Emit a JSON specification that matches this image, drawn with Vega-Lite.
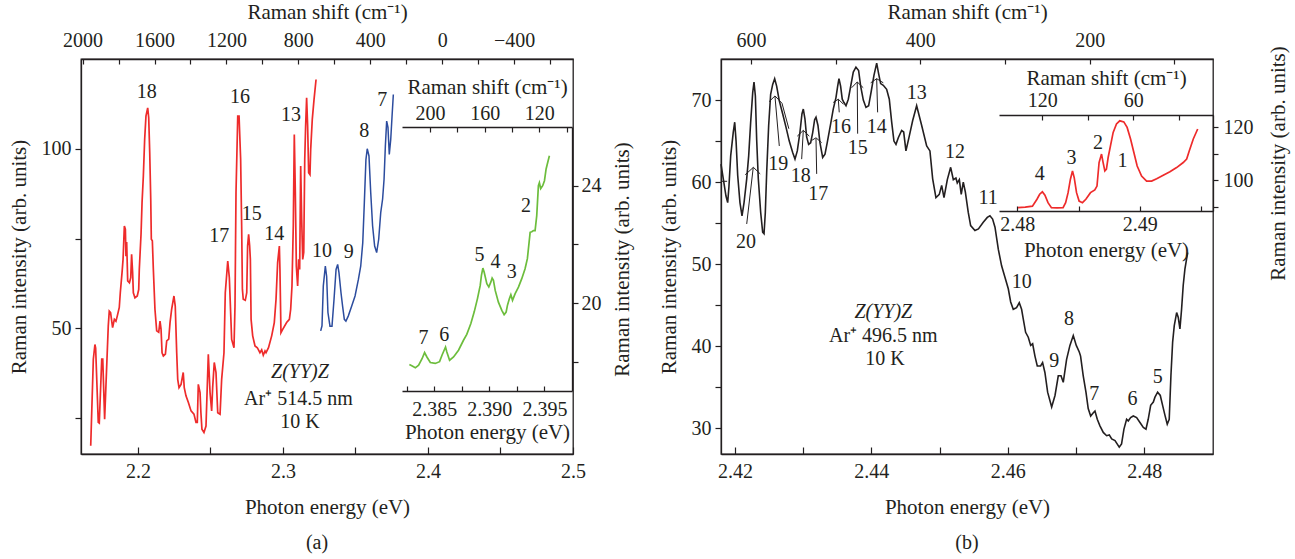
{
"$schema":"https://vega.github.io/schema/vega-lite/v6.json",
"background":"white",
"padding":{"left":7,"top":0,"right":5,"bottom":5},
"config":{
 "font":"Liberation Serif",
 "view":{"stroke":"#231f20","strokeWidth":1.3},
 "axis":{"grid":false,"domainColor":"#231f20","domainWidth":1.3,"tickColor":"#231f20","tickWidth":1.2,"labelColor":"#231f20","titleColor":"#231f20","labelFont":"Liberation Serif","titleFont":"Liberation Serif","labelFontSize":20,"titleFontSize":21,"titleFontWeight":"normal","labelOverlap":false,"labelFlush":false,"labelBound":false},
 "text":{"font":"Liberation Serif","fontSize":20,"color":"#231f20"},
 "title":{"font":"Liberation Serif","fontSize":20,"fontWeight":"normal","color":"#231f20"}
},
"datasets":{
 "aRed":[{"e":2.1674,"i":17.3},{"e":2.1692,"i":41.4},{"e":2.1703,"i":45.5},{"e":2.1708,"i":44.5},{"e":2.1726,"i":23.8},{"e":2.1733,"i":23.6},{"e":2.175,"i":41.4},{"e":2.1757,"i":41.4},{"e":2.177,"i":24.7},{"e":2.1779,"i":34},{"e":2.1795,"i":50.6},{"e":2.1802,"i":54.8},{"e":2.1811,"i":54.4},{"e":2.1825,"i":50.2},{"e":2.1837,"i":52.5},{"e":2.1848,"i":52},{"e":2.1857,"i":53.4},{"e":2.1871,"i":55.8},{"e":2.1878,"i":59.9},{"e":2.189,"i":65.5},{"e":2.1897,"i":69.2},{"e":2.1906,"i":78.5},{"e":2.1913,"i":77.6},{"e":2.1917,"i":70.1},{"e":2.1922,"i":74},{"e":2.1929,"i":63.2},{"e":2.1941,"i":62.7},{"e":2.195,"i":64.1},{"e":2.1956,"i":70.6},{"e":2.1963,"i":65.5},{"e":2.1968,"i":59.9},{"e":2.1979,"i":58.5},{"e":2.1995,"i":59},{"e":2.2005,"i":60.8},{"e":2.2009,"i":66.4},{"e":2.2021,"i":76.2},{"e":2.2028,"i":85},{"e":2.2037,"i":92.4},{"e":2.2046,"i":102.6},{"e":2.2055,"i":109.1},{"e":2.2067,"i":111.4},{"e":2.2074,"i":108.6},{"e":2.2081,"i":98.9},{"e":2.2088,"i":85.9},{"e":2.2092,"i":74.8},{"e":2.2099,"i":74.4},{"e":2.2106,"i":66.4},{"e":2.2117,"i":55.3},{"e":2.2129,"i":49.3},{"e":2.2143,"i":48.9},{"e":2.2152,"i":52},{"e":2.2159,"i":49.8},{"e":2.2166,"i":43.2},{"e":2.2175,"i":42.3},{"e":2.2189,"i":42.8},{"e":2.2198,"i":46.5},{"e":2.2212,"i":47},{"e":2.2221,"i":51.6},{"e":2.2232,"i":55.3},{"e":2.2248,"i":59},{"e":2.2257,"i":56.2},{"e":2.2267,"i":43.2},{"e":2.2274,"i":35.8},{"e":2.2283,"i":33.5},{"e":2.2297,"i":34.4},{"e":2.2312,"i":37.7},{"e":2.2319,"i":33.5},{"e":2.2331,"i":31.2},{"e":2.2347,"i":29.4},{"e":2.2366,"i":27},{"e":2.2386,"i":26.1},{"e":2.24,"i":23.8},{"e":2.2409,"i":23.8},{"e":2.2416,"i":34.4},{"e":2.2428,"i":32.1},{"e":2.2434,"i":26.5},{"e":2.2441,"i":21.9},{"e":2.2455,"i":21},{"e":2.2469,"i":22.8},{"e":2.2485,"i":42.8},{"e":2.2497,"i":32.1},{"e":2.2508,"i":27},{"e":2.2515,"i":33.5},{"e":2.2526,"i":40.5},{"e":2.2538,"i":37.7},{"e":2.255,"i":26.5},{"e":2.2566,"i":26.1},{"e":2.2577,"i":35.8},{"e":2.2593,"i":43.2},{"e":2.2602,"i":59.9},{"e":2.2619,"i":68.7},{"e":2.263,"i":64.1},{"e":2.2646,"i":46.9},{"e":2.2662,"i":44.6},{"e":2.2669,"i":56.2},{"e":2.2676,"i":87.8},{"e":2.2688,"i":109.1},{"e":2.2697,"i":109.1},{"e":2.2708,"i":97},{"e":2.2715,"i":78.5},{"e":2.272,"i":60.9},{"e":2.2726,"i":58.1},{"e":2.274,"i":57.8},{"e":2.275,"i":59.9},{"e":2.2756,"i":72.9},{"e":2.2763,"i":76.2},{"e":2.277,"i":73},{"e":2.2775,"i":69.2},{"e":2.278,"i":52.5},{"e":2.2791,"i":47.9},{"e":2.2807,"i":45.1},{"e":2.2823,"i":44.6},{"e":2.2841,"i":43.2},{"e":2.2853,"i":44},{"e":2.2864,"i":42.5},{"e":2.2876,"i":43.7},{"e":2.2883,"i":43.2},{"e":2.29,"i":44.6},{"e":2.2922,"i":47.9},{"e":2.294,"i":51.6},{"e":2.2952,"i":58.1},{"e":2.2963,"i":68.3},{"e":2.2975,"i":72.9},{"e":2.2979,"i":66.4},{"e":2.2986,"i":48.8},{"e":2.2998,"i":49.7},{"e":2.3025,"i":51.6},{"e":2.3044,"i":52.5},{"e":2.3053,"i":55.3},{"e":2.3062,"i":61.8},{"e":2.3071,"i":78.5},{"e":2.3078,"i":104},{"e":2.3085,"i":88},{"e":2.3092,"i":67.3},{"e":2.3101,"i":61.8},{"e":2.3108,"i":69.2},{"e":2.3115,"i":66.4},{"e":2.3122,"i":95.2},{"e":2.3129,"i":80.4},{"e":2.3136,"i":69.2},{"e":2.3143,"i":71.1},{"e":2.315,"i":97},{"e":2.3156,"i":106.3},{"e":2.3163,"i":114.2},{"e":2.317,"i":106.3},{"e":2.3177,"i":93.3},{"e":2.3186,"i":92.8},{"e":2.3191,"i":99.8},{"e":2.3202,"i":108.2},{"e":2.3214,"i":113.7},{"e":2.3228,"i":119.3}],
 "aBlue":[{"e":2.326,"i":49.3},{"e":2.3269,"i":50.7},{"e":2.3278,"i":61.8},{"e":2.3292,"i":67.3},{"e":2.3301,"i":64.5},{"e":2.331,"i":54.4},{"e":2.3324,"i":50.6},{"e":2.3338,"i":50.6},{"e":2.3352,"i":58.1},{"e":2.3366,"i":66.4},{"e":2.3377,"i":67.8},{"e":2.3386,"i":65.5},{"e":2.34,"i":59.9},{"e":2.3411,"i":56.2},{"e":2.3423,"i":52.5},{"e":2.3434,"i":52},{"e":2.345,"i":53.4},{"e":2.3474,"i":56.2},{"e":2.3497,"i":59},{"e":2.352,"i":63.6},{"e":2.3536,"i":67.3},{"e":2.355,"i":73.8},{"e":2.3561,"i":85},{"e":2.3572,"i":97},{"e":2.3581,"i":100},{"e":2.3593,"i":98},{"e":2.3605,"i":87.8},{"e":2.3618,"i":78.5},{"e":2.3632,"i":72.9},{"e":2.3646,"i":71.1},{"e":2.366,"i":74.8},{"e":2.3674,"i":82.2},{"e":2.3687,"i":86},{"e":2.3697,"i":91.5},{"e":2.3706,"i":100.8},{"e":2.3715,"i":107.7},{"e":2.3724,"i":106},{"e":2.3733,"i":98.4},{"e":2.3743,"i":102.6},{"e":2.3752,"i":109},{"e":2.3761,"i":115.1}],
 "aGreen":[{"e":2.38274,"i":17.9},{"e":2.383,"i":17.85},{"e":2.38328,"i":17.79},{"e":2.38358,"i":17.88},{"e":2.38389,"i":18.1},{"e":2.38412,"i":18.31},{"e":2.38433,"i":18.16},{"e":2.38464,"i":17.97},{"e":2.38509,"i":17.94},{"e":2.38548,"i":18.0},{"e":2.3857,"i":18.22},{"e":2.38602,"i":18.5},{"e":2.38614,"i":18.33},{"e":2.38639,"i":18.05},{"e":2.38675,"i":18.16},{"e":2.3872,"i":18.39},{"e":2.38765,"i":18.73},{"e":2.38795,"i":18.93},{"e":2.38832,"i":19.3},{"e":2.38862,"i":19.69},{"e":2.38892,"i":20.15},{"e":2.38917,"i":20.6},{"e":2.38928,"i":20.94},{"e":2.38941,"i":21.19},{"e":2.38953,"i":21.05},{"e":2.38977,"i":20.66},{"e":2.38995,"i":20.55},{"e":2.39013,"i":20.71},{"e":2.39025,"i":20.85},{"e":2.39037,"i":20.77},{"e":2.39053,"i":20.43},{"e":2.39082,"i":20.03},{"e":2.39113,"i":19.75},{"e":2.39134,"i":19.6},{"e":2.39152,"i":19.69},{"e":2.39164,"i":19.92},{"e":2.39182,"i":20.15},{"e":2.39195,"i":20.28},{"e":2.3921,"i":20.09},{"e":2.39234,"i":20.32},{"e":2.39264,"i":20.54},{"e":2.39294,"i":20.83},{"e":2.39324,"i":21.17},{"e":2.39345,"i":21.51},{"e":2.3937,"i":22.41},{"e":2.39385,"i":22.43},{"e":2.394,"i":22.47},{"e":2.39415,"i":22.47},{"e":2.3943,"i":22.98},{"e":2.39445,"i":24.0},{"e":2.39454,"i":24.1},{"e":2.39466,"i":23.9},{"e":2.39484,"i":24.0},{"e":2.395,"i":24.17},{"e":2.39515,"i":24.57},{"e":2.3953,"i":24.8},{"e":2.39545,"i":25.02}],
 "aLab":[{"e":2.206,"i":115.9,"t":"18"},{"e":2.2561,"i":75.7,"t":"17"},{"e":2.2703,"i":114.4,"t":"16"},{"e":2.2784,"i":81.7,"t":"15"},{"e":2.294,"i":76.2,"t":"14"},{"e":2.3055,"i":109.3,"t":"13"},{"e":2.3269,"i":71.5,"t":"10"},{"e":2.3453,"i":71.2,"t":"9"},{"e":2.3561,"i":104.9,"t":"8"},{"e":2.3685,"i":113.5,"t":"7"}],
 "aNote":[{"e":2.3106,"i":30.2,"t":"Ar⁺ 514.5 nm"},{"e":2.3117,"i":23.9,"t":"10 K"}],
 "aNoteIt":[{"e":2.3117,"i":37.7,"t":"Z(YY)Z"}],
 "aInLab":[{"e":2.39333,"i":23.3,"t":"2"},{"e":2.3891,"i":21.64,"t":"5"},{"e":2.39055,"i":21.39,"t":"4"},{"e":2.39204,"i":21.05,"t":"3"},{"e":2.38403,"i":18.79,"t":"7"},{"e":2.38591,"i":18.9,"t":"6"}],
 "aTop":[{"r":0}],
 "aInTop":[{"r":160}],
 "bMain":[{"e":2.41795,"i":62.2},{"e":2.41868,"i":58.3},{"e":2.41893,"i":57.5},{"e":2.41912,"i":59.5},{"e":2.41937,"i":63.2},{"e":2.41975,"i":66.1},{"e":2.41996,"i":67.3},{"e":2.42016,"i":65},{"e":2.4204,"i":60.8},{"e":2.42073,"i":57.5},{"e":2.42103,"i":55.9},{"e":2.42133,"i":57.5},{"e":2.42172,"i":60.4},{"e":2.42201,"i":63.2},{"e":2.4223,"i":67.3},{"e":2.4226,"i":70.9},{"e":2.42279,"i":72.2},{"e":2.42299,"i":70.5},{"e":2.42318,"i":65.2},{"e":2.42342,"i":60.4},{"e":2.42377,"i":56.3},{"e":2.42406,"i":53.9},{"e":2.42426,"i":53.7},{"e":2.42445,"i":56.3},{"e":2.42465,"i":61.2},{"e":2.42494,"i":66.9},{"e":2.42523,"i":70.7},{"e":2.42553,"i":71.9},{"e":2.42582,"i":72.6},{"e":2.42611,"i":71.7},{"e":2.4265,"i":69.9},{"e":2.427,"i":68.3},{"e":2.42748,"i":66.7},{"e":2.42796,"i":65},{"e":2.42846,"i":63.6},{"e":2.4288,"i":62.8},{"e":2.42914,"i":63.8},{"e":2.42953,"i":66.1},{"e":2.42982,"i":68.3},{"e":2.43002,"i":68.9},{"e":2.43026,"i":67.7},{"e":2.43051,"i":65.5},{"e":2.4308,"i":64.6},{"e":2.4311,"i":64.8},{"e":2.43139,"i":66},{"e":2.43168,"i":67.6},{"e":2.43188,"i":67.9},{"e":2.43217,"i":66.9},{"e":2.43246,"i":64.8},{"e":2.43286,"i":63},{"e":2.4332,"i":63.4},{"e":2.43353,"i":64.8},{"e":2.43403,"i":67.1},{"e":2.43441,"i":68.9},{"e":2.43481,"i":70.3},{"e":2.43506,"i":71.7},{"e":2.43525,"i":72.6},{"e":2.43549,"i":71.7},{"e":2.43573,"i":70.1},{"e":2.43598,"i":69.7},{"e":2.43628,"i":69.3},{"e":2.43662,"i":70.1},{"e":2.43697,"i":71.7},{"e":2.43735,"i":73.4},{"e":2.43774,"i":74},{"e":2.43813,"i":73.6},{"e":2.43843,"i":71.7},{"e":2.43882,"i":70},{"e":2.43921,"i":69.1},{"e":2.4396,"i":69.3},{"e":2.43999,"i":71.1},{"e":2.44038,"i":73},{"e":2.44078,"i":74.5},{"e":2.44107,"i":73.2},{"e":2.44136,"i":72},{"e":2.44175,"i":71.8},{"e":2.44224,"i":71.3},{"e":2.44263,"i":70.1},{"e":2.44298,"i":67.3},{"e":2.44331,"i":65},{"e":2.44361,"i":64.6},{"e":2.44395,"i":65.4},{"e":2.44444,"i":66.3},{"e":2.44474,"i":66.1},{"e":2.44507,"i":63.8},{"e":2.44556,"i":65.6},{"e":2.44606,"i":67.5},{"e":2.44664,"i":69.3},{"e":2.44738,"i":66.9},{"e":2.44811,"i":64.4},{"e":2.44859,"i":63.8},{"e":2.44899,"i":60.4},{"e":2.44947,"i":58.1},{"e":2.44996,"i":58.5},{"e":2.45031,"i":59.6},{"e":2.45065,"i":58.1},{"e":2.45114,"i":60.3},{"e":2.45163,"i":61.8},{"e":2.45202,"i":60.3},{"e":2.4524,"i":60.5},{"e":2.4526,"i":59.9},{"e":2.4529,"i":60.3},{"e":2.45318,"i":58.5},{"e":2.45348,"i":60},{"e":2.45378,"i":58.8},{"e":2.45421,"i":56.3},{"e":2.45456,"i":54.7},{"e":2.45519,"i":54.1},{"e":2.4557,"i":54.3},{"e":2.45641,"i":55.1},{"e":2.457,"i":55.7},{"e":2.45739,"i":55.9},{"e":2.45778,"i":55.5},{"e":2.45813,"i":54.5},{"e":2.45862,"i":51.8},{"e":2.4591,"i":49.8},{"e":2.45959,"i":48.4},{"e":2.46008,"i":47},{"e":2.46043,"i":45.4},{"e":2.46081,"i":44.5},{"e":2.46129,"i":44.7},{"e":2.46169,"i":45.3},{"e":2.46203,"i":44.5},{"e":2.46228,"i":43.3},{"e":2.46262,"i":41.7},{"e":2.46301,"i":41.1},{"e":2.46336,"i":40.1},{"e":2.46365,"i":40.3},{"e":2.46399,"i":38.8},{"e":2.46433,"i":37.6},{"e":2.46482,"i":37.6},{"e":2.46511,"i":38},{"e":2.46545,"i":36.8},{"e":2.46585,"i":34.4},{"e":2.46644,"i":32.6},{"e":2.46693,"i":34},{"e":2.46741,"i":36.4},{"e":2.46781,"i":36.4},{"e":2.46814,"i":35.6},{"e":2.46863,"i":38.4},{"e":2.46912,"i":40.1},{"e":2.46961,"i":41.3},{"e":2.47005,"i":40.1},{"e":2.47049,"i":39.3},{"e":2.47068,"i":38.8},{"e":2.47107,"i":36.4},{"e":2.47147,"i":34.4},{"e":2.4718,"i":32.4},{"e":2.47216,"i":31.5},{"e":2.47255,"i":31.9},{"e":2.47279,"i":32.1},{"e":2.47313,"i":31.1},{"e":2.47352,"i":30.3},{"e":2.47401,"i":29.5},{"e":2.4745,"i":29.1},{"e":2.47489,"i":29.2},{"e":2.47524,"i":28.7},{"e":2.47573,"i":28.5},{"e":2.47635,"i":27.7},{"e":2.47669,"i":28.1},{"e":2.47704,"i":29.9},{"e":2.47743,"i":31.1},{"e":2.47767,"i":30.9},{"e":2.47802,"i":31.3},{"e":2.47841,"i":31.5},{"e":2.4789,"i":31.3},{"e":2.47939,"i":30.7},{"e":2.47988,"i":30.1},{"e":2.48027,"i":29.9},{"e":2.4806,"i":31.1},{"e":2.48096,"i":32.8},{"e":2.48135,"i":33.2},{"e":2.48159,"i":33.8},{"e":2.48198,"i":34.4},{"e":2.48237,"i":34},{"e":2.48271,"i":32.8},{"e":2.48305,"i":31.6},{"e":2.48339,"i":30.5},{"e":2.48368,"i":31.1},{"e":2.48393,"i":36.4},{"e":2.48418,"i":40.5},{"e":2.48442,"i":42.5},{"e":2.48477,"i":44.1},{"e":2.48501,"i":43.5},{"e":2.48525,"i":42.1},{"e":2.48549,"i":44.5},{"e":2.48573,"i":47.4},{"e":2.48598,"i":49.4},{"e":2.48638,"i":51.4}],
 "bFit":[{"g":"a","e":2.41805,"i":60.1},{"g":"a","e":2.41885,"i":60.1},{"g":"b","e":2.4215,"i":60.9},{"g":"b","e":2.4227,"i":61.8},{"g":"b","e":2.4237,"i":61.0},{"g":"c","e":2.425,"i":69.8},{"g":"c","e":2.42587,"i":70.5},{"g":"c","e":2.4269,"i":69.6},{"g":"c","e":2.4279,"i":66.5},{"g":"d","e":2.42914,"i":65.6},{"g":"d","e":2.43002,"i":66.3},{"g":"d","e":2.4309,"i":65.6},{"g":"e","e":2.4313,"i":65.1},{"g":"e","e":2.43188,"i":65.4},{"g":"e","e":2.43271,"i":64.8},{"g":"f","e":2.4344,"i":69.7},{"g":"f","e":2.43515,"i":70.1},{"g":"f","e":2.4359,"i":69.5},{"g":"h","e":2.43711,"i":71.5},{"g":"h","e":2.43793,"i":72.2},{"g":"h","e":2.43881,"i":71.5},{"g":"k","e":2.4399,"i":72.1},{"g":"k","e":2.44078,"i":72.6},{"g":"k","e":2.44175,"i":72.1}],
 "bLead":[{"g":"20","e":2.42172,"i":54.9},{"g":"20","e":2.42268,"i":61.8},{"g":"19","e":2.4265,"i":64.4},{"g":"19","e":2.42587,"i":70.4},{"g":"18","e":2.42978,"i":62.8},{"g":"18","e":2.43002,"i":66.3},{"g":"17","e":2.43198,"i":61},{"g":"17","e":2.43188,"i":65.3},{"g":"16","e":2.43529,"i":68.5},{"g":"16","e":2.43515,"i":70.1},{"g":"15","e":2.43799,"i":65.9},{"g":"15","e":2.43793,"i":72.2},{"g":"14","e":2.44092,"i":68.5},{"g":"14","e":2.44078,"i":72.6}],
 "bLab":[{"e":2.42161,"i":52.7,"t":"20"},{"e":2.42635,"i":62.2,"t":"19"},{"e":2.42963,"i":60.8,"t":"18"},{"e":2.43222,"i":58.5,"t":"17"},{"e":2.43554,"i":66.7,"t":"16"},{"e":2.43799,"i":64.1,"t":"15"},{"e":2.44078,"i":66.7,"t":"14"},{"e":2.44664,"i":70.9,"t":"13"},{"e":2.45226,"i":63.7,"t":"12"},{"e":2.45714,"i":58.1,"t":"11"},{"e":2.46204,"i":47.8,"t":"10"},{"e":2.46682,"i":38.2,"t":"9"},{"e":2.46897,"i":43.3,"t":"8"},{"e":2.47268,"i":34.2,"t":"7"},{"e":2.47831,"i":33.6,"t":"6"},{"e":2.48198,"i":36.3,"t":"5"}],
 "bNote":[{"e":2.44175,"i":41.21,"t":"Ar⁺ 496.5 nm"},{"e":2.442,"i":38.44,"t":"10 K"}],
 "bNoteIt":[{"e":2.44175,"i":44.13,"t":"Z(YY)Z"}],
 "bRed":[{"e":2.48005,"i":89.6},{"e":2.48064,"i":89.8},{"e":2.48123,"i":90.2},{"e":2.4816,"i":92.8},{"e":2.48182,"i":94.7},{"e":2.48204,"i":95.6},{"e":2.48225,"i":94.3},{"e":2.4825,"i":91.5},{"e":2.48278,"i":89.6},{"e":2.48325,"i":89.5},{"e":2.48373,"i":89.6},{"e":2.48394,"i":91.5},{"e":2.48414,"i":95.3},{"e":2.48433,"i":100.4},{"e":2.4845,"i":103.5},{"e":2.48464,"i":101},{"e":2.48483,"i":95.3},{"e":2.48504,"i":92.1},{"e":2.48531,"i":91.5},{"e":2.48559,"i":92.8},{"e":2.48597,"i":95.3},{"e":2.48632,"i":96.3},{"e":2.4865,"i":97.8},{"e":2.48667,"i":106.7},{"e":2.48687,"i":109.9},{"e":2.487,"i":106.7},{"e":2.48714,"i":103.5},{"e":2.48727,"i":104.2},{"e":2.48741,"i":108.6},{"e":2.4876,"i":113},{"e":2.48782,"i":118.1},{"e":2.48809,"i":121.3},{"e":2.48836,"i":122.5},{"e":2.48869,"i":122.1},{"e":2.48896,"i":120},{"e":2.48924,"i":115.6},{"e":2.48951,"i":110.5},{"e":2.48978,"i":105.4},{"e":2.49014,"i":101.6},{"e":2.49055,"i":99.7},{"e":2.49096,"i":99.7},{"e":2.49137,"i":100.6},{"e":2.49191,"i":101.9},{"e":2.49245,"i":103.2},{"e":2.493,"i":104.8},{"e":2.49354,"i":106.7},{"e":2.49382,"i":108},{"e":2.49403,"i":111.1},{"e":2.49436,"i":115.6},{"e":2.49472,"i":119.4}],
 "bInLab":[{"e":2.48182,"i":102.3,"t":"4"},{"e":2.48442,"i":108.6,"t":"3"},{"e":2.48659,"i":114,"t":"2"},{"e":2.48859,"i":107.3,"t":"1"}],
 "bTop":[{"r":400}],
 "bInTop":[{"r":60}]
},
"bounds":"flush",
"spacing":148,
"hconcat":[
 {
  "width":492,"height":395,
  "title":{"text":"(a)","orient":"bottom","offset":16,"dx":-10},
  "layer":[
   {"layer":[
     {"data":{"name":"aRed"},"mark":{"type":"line","color":"#ee2b2b","strokeWidth":1.7},
      "encoding":{
       "x":{"field":"e","type":"quantitative","scale":{"domain":[2.1607,2.5],"nice":false,"zero":false},
            "axis":{"orient":"bottom","title":"Photon energy (eV)","values":[2.2,2.25,2.3,2.35,2.4,2.45,2.5],"labelExpr":"indexof([2.2,2.3,2.4,2.5], datum.value) >= 0 ? format(datum.value, '.1f') : ''","tickSize":-7,"labelPadding":14,"titlePadding":15}},
       "y":{"field":"i","type":"quantitative","scale":{"domain":[15,125],"nice":false,"zero":false},
            "axis":{"orient":"left","title":"Raman intensity (arb. units)","values":[25,50,75,100],"labelExpr":"datum.value % 50 == 0 ? datum.label : ''","tickSize":6,"labelPadding":4,"titlePadding":12}}}},
     {"data":{"name":"aBlue"},"mark":{"type":"line","color":"#2c4c9e","strokeWidth":1.5},
      "encoding":{"x":{"field":"e","type":"quantitative"},"y":{"field":"i","type":"quantitative"}}},
     {"data":{"name":"aLab"},"mark":{"type":"text","align":"center","baseline":"middle"},
      "encoding":{"x":{"field":"e","type":"quantitative"},"y":{"field":"i","type":"quantitative"},"text":{"field":"t"}}},
     {"data":{"name":"aNote"},"mark":{"type":"text","align":"center","baseline":"middle"},
      "encoding":{"x":{"field":"e","type":"quantitative"},"y":{"field":"i","type":"quantitative"},"text":{"field":"t"}}},
     {"data":{"name":"aNoteIt"},"mark":{"type":"text","align":"center","baseline":"middle","fontStyle":"italic"},
      "encoding":{"x":{"field":"e","type":"quantitative"},"y":{"field":"i","type":"quantitative"},"text":{"field":"t"}}}
   ]},
   {"data":{"name":"aTop"},"mark":{"type":"point","opacity":0},
    "encoding":{"x":{"field":"r","type":"quantitative","scale":{"domain":[2009,-728],"nice":false,"zero":false},
      "axis":{"orient":"top","title":"Raman shift (cm⁻¹)","values":[2000,1800,1600,1400,1200,1000,800,600,400,200,0,-200,-400,-600],"labelExpr":"datum.value % 400 == 0 ? format(datum.value, 'd') : ''","tickSize":-5,"labelPadding":14,"titlePadding":8}}}},
   {"layer":[
     {"data":{"name":"aGreen"},"mark":{"type":"line","color":"#6cbd3c","strokeWidth":1.7},
      "encoding":{
       "x":{"field":"e","type":"quantitative","scale":{"domain":[2.38207,2.3975],"range":[321,491],"nice":false,"zero":false},
            "axis":{"orient":"bottom","offset":-63,"title":"Photon energy (eV)","values":[2.3825,2.385,2.3875,2.39,2.3925,2.395],"labelExpr":"indexof([2.385,2.39,2.395], datum.value) >= 0 ? format(datum.value, '.3f') : ''","tickSize":-5,"labelPadding":13,"titlePadding":2}},
       "y":{"field":"i","type":"quantitative","scale":{"domain":[17,26],"range":[332,68],"nice":false,"zero":false},
            "axis":{"orient":"right","offset":-1,"title":"Raman intensity (arb. units)","titleAngle":270,"titleBaseline":"top","values":[18,20,22,24],"labelExpr":"datum.value % 4 == 0 ? datum.label : ''","tickSize":6,"labelPadding":3,"titlePadding":10}}}},
     {"data":{"name":"aInLab"},"mark":{"type":"text","align":"center","baseline":"middle"},
      "encoding":{"x":{"field":"e","type":"quantitative"},"y":{"field":"i","type":"quantitative"},"text":{"field":"t"}}}
   ]},
   {"data":{"name":"aInTop"},"mark":{"type":"point","opacity":0},
    "encoding":{"x":{"field":"r","type":"quantitative","scale":{"domain":[220.5,96.1],"range":[321,491],"nice":false,"zero":false},
      "axis":{"orient":"top","offset":-68,"title":"Raman shift (cm⁻¹)","values":[200,180,160,140,120,100],"labelExpr":"datum.value % 40 == 0 ? datum.label : ''","tickSize":-5,"labelPadding":9,"titlePadding":6}}}}
  ],
  "resolve":{"scale":{"x":"independent","y":"independent"},"axis":{"x":"independent","y":"independent"}}
 },
 {
  "width":492,"height":395,
  "title":{"text":"(b)","orient":"bottom","offset":16},
  "layer":[
   {"layer":[
     {"data":{"name":"bMain"},"mark":{"type":"line","color":"#231f20","strokeWidth":1.6},
      "encoding":{
       "x":{"field":"e","type":"quantitative","scale":{"domain":[2.41795,2.4901],"nice":false,"zero":false},
            "axis":{"orient":"bottom","title":"Photon energy (eV)","values":[2.42,2.43,2.44,2.45,2.46,2.47,2.48],"labelExpr":"indexof([2.42,2.44,2.46,2.48], datum.value) >= 0 ? format(datum.value, '.2f') : ''","tickSize":-7,"labelPadding":14,"titlePadding":15}},
       "y":{"field":"i","type":"quantitative","scale":{"domain":[26.87,75],"nice":false,"zero":false},
            "axis":{"orient":"left","title":"Raman intensity (arb. units)","values":[30,35,40,45,50,55,60,65,70],"labelExpr":"datum.value % 10 == 0 ? datum.label : ''","tickSize":6,"labelPadding":4,"titlePadding":12}}}},
     {"data":{"name":"bFit"},"mark":{"type":"line","color":"#231f20","strokeWidth":1},
      "encoding":{"x":{"field":"e","type":"quantitative"},"y":{"field":"i","type":"quantitative"},"detail":{"field":"g"}}},
     {"data":{"name":"bLead"},"mark":{"type":"line","color":"#231f20","strokeWidth":1},
      "encoding":{"x":{"field":"e","type":"quantitative"},"y":{"field":"i","type":"quantitative"},"detail":{"field":"g"}}},
     {"data":{"name":"bLab"},"mark":{"type":"text","align":"center","baseline":"middle"},
      "encoding":{"x":{"field":"e","type":"quantitative"},"y":{"field":"i","type":"quantitative"},"text":{"field":"t"}}},
     {"data":{"name":"bNote"},"mark":{"type":"text","align":"center","baseline":"middle"},
      "encoding":{"x":{"field":"e","type":"quantitative"},"y":{"field":"i","type":"quantitative"},"text":{"field":"t"}}},
     {"data":{"name":"bNoteIt"},"mark":{"type":"text","align":"center","baseline":"middle","fontStyle":"italic"},
      "encoding":{"x":{"field":"e","type":"quantitative"},"y":{"field":"i","type":"quantitative"},"text":{"field":"t"}}}
   ]},
   {"data":{"name":"bTop"},"mark":{"type":"point","opacity":0},
    "encoding":{"x":{"field":"r","type":"quantitative","scale":{"domain":[635.4,54.5],"nice":false,"zero":false},
      "axis":{"orient":"top","title":"Raman shift (cm⁻¹)","values":[600,500,400,300,200,100],"labelExpr":"datum.value % 200 == 0 ? datum.label : ''","tickSize":-5,"labelPadding":14,"titlePadding":8}}}},
   {"layer":[
     {"data":{"name":"bRed"},"mark":{"type":"line","color":"#ee2b2b","strokeWidth":1.7},
      "encoding":{
       "x":{"field":"e","type":"quantitative","scale":{"domain":[2.4785,2.49597],"range":[278,492],"nice":false,"zero":false},
            "axis":{"orient":"bottom","offset":-243,"title":"Photon energy (eV)","values":[2.48,2.485,2.49,2.495],"labelExpr":"indexof([2.48,2.49], datum.value) >= 0 ? format(datum.value, '.2f') : ''","tickSize":-5,"labelPadding":8,"titlePadding":5}},
       "y":{"field":"i","type":"quantitative","scale":{"domain":[88.35,124.7],"range":[152,56],"nice":false,"zero":false},
            "axis":{"orient":"right","offset":0,"title":"Raman intensity (arb. units)","titleAngle":270,"titleBaseline":"top","values":[90,100,110,120],"labelExpr":"datum.value % 20 == 0 ? datum.label : ''","tickSize":5,"labelPadding":5,"titlePadding":14}}}},
     {"data":{"name":"bInLab"},"mark":{"type":"text","align":"center","baseline":"middle"},
      "encoding":{"x":{"field":"e","type":"quantitative"},"y":{"field":"i","type":"quantitative"},"text":{"field":"t"}}}
   ]},
   {"data":{"name":"bInTop"},"mark":{"type":"point","opacity":0},
    "encoding":{"x":{"field":"r","type":"quantitative","scale":{"domain":[148.4,7.5],"range":[278,492],"nice":false,"zero":false},
      "axis":{"orient":"top","offset":-56,"title":"Raman shift (cm⁻¹)","values":[120,90,60,30],"labelExpr":"datum.value % 60 == 0 ? datum.label : ''","tickSize":-5,"labelPadding":10,"titlePadding":2}}}}
  ],
  "resolve":{"scale":{"x":"independent","y":"independent"},"axis":{"x":"independent","y":"independent"}}
 }
]
}
